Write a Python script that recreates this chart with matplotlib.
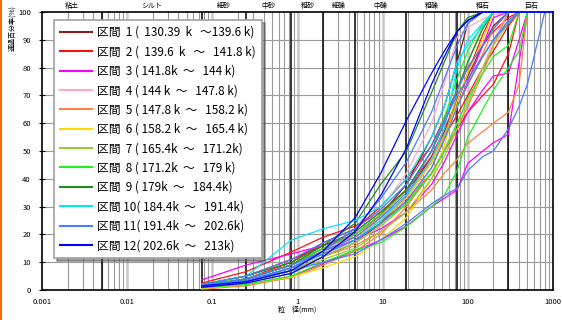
import matplotlib
matplotlib.use("Agg")
import matplotlib.pyplot as plt
from matplotlib.lines import Line2D
import numpy as np

plt.rcParams['font.family'] = ['Noto Sans CJK JP', 'DejaVu Sans']

# sieve sizes (mm)
SIEVE = [0.075, 0.25, 0.85, 2, 4.75, 9.5, 19, 37.5, 53, 75, 100, 150, 200, 300, 400, 500, 800, 1000]

# passing percentages per interval (several samples each)
SEC1 = [
    [1.5, 4, 9, 15, 20, 27, 38, 55, 66, 82, 96, 100, 100, 100, 100, 100, 100, 100],
    [1.0, 3, 7, 12, 17, 24, 34, 48, 57, 68, 77, 88, 95, 100, 100, 100, 100, 100],
]
SEC2 = [
    [2.5, 6.6, 13.7, 19, 23, 28, 36, 48, 58, 68, 78, 92, 100, 100, 100, 100, 100, 100],
    [1.5, 4, 10, 17, 22, 30, 40, 52, 62, 72, 80, 88, 93, 98, 100, 100, 100, 100],
    [2, 5, 11, 16, 20, 27, 36, 46, 55, 63, 70, 80, 86, 95, 100, 100, 100, 100],
    [1, 3, 8, 13, 18, 24, 32, 42, 50, 58, 64, 70, 74, 85, 100, 100, 100, 100],
]
SEC3 = [
    [3.6, 9, 13, 16, 19, 25, 33, 46, 56, 66, 75, 88, 98, 100, 100, 100, 100, 100],
    [0.5, 2, 4.8, 9.6, 14, 18, 23, 30, 33, 36, 45.6, 50, 53, 56, 82, 100, 100, 100],
    [1.5, 4, 9, 14, 18, 22, 28, 38, 46, 56, 64, 72, 77, 78, 90, 100, 100, 100],
]
SEC4 = [
    [1, 3, 8, 14, 20, 29, 42, 60, 74, 91, 94.5, 97.5, 99, 100, 100, 100, 100, 100],
    [1.5, 4, 9, 13, 17, 23, 31, 42, 51, 60, 68, 80, 90, 100, 100, 100, 100, 100],
]
SEC5 = [
    [0.3, 1.5, 4.5, 9, 14, 20, 30, 42, 50, 58, 66, 78, 88, 100, 100, 100, 100, 100],
    [1, 3, 7, 12, 16, 21, 28, 36, 42, 47, 52.8, 57, 60, 64, 74, 100, 100, 100],
    [1.5, 4, 9, 15, 20, 26, 34, 46, 56, 66, 74, 85, 94, 100, 100, 100, 100, 100],
]
SEC6 = [
    [0.5, 2, 4.7, 8, 12, 18, 26, 40, 52, 68, 78, 90, 100, 100, 100, 100, 100, 100],
    [1.5, 4, 9, 14, 19, 25, 33, 46, 55, 66, 74, 84, 90, 97, 100, 100, 100, 100],
]
SEC7 = [
    [1, 3, 7, 12, 17, 23, 31, 44, 55, 70, 82, 95, 100, 100, 100, 100, 100, 100],
    [0.8, 2.5, 6, 11, 15, 21, 28, 40, 48, 58, 67, 80, 88, 96, 100, 100, 100, 100],
]
SEC8 = [
    [0.8, 2, 5, 10, 14.4, 17, 22.8, 30, 34, 43, 55, 65, 72, 80, 86, 100, 100, 100],
    [2, 4, 9, 15, 20, 27, 36, 50, 62, 76, 86, 96, 100, 100, 100, 100, 100, 100],
    [1, 3, 8, 13, 18, 24, 31, 42, 50, 60, 69, 78, 84, 88, 100, 100, 100, 100],
]
SEC9 = [
    [1.5, 4, 9, 16, 24, 38, 50, 71, 82, 93, 98, 100, 100, 100, 100, 100, 100, 100],
    [2, 5, 10, 16, 21, 28, 36, 50, 60, 72, 82, 94, 100, 100, 100, 100, 100, 100],
]
SEC10 = [
    [2, 5, 18, 22, 25, 30, 40, 55, 66, 82, 88, 95, 100, 100, 100, 100, 100, 100],
    [1, 3, 8, 13, 18, 25, 34, 47, 58, 80, 90, 96, 100, 100, 100, 100, 100, 100],
]
SEC11 = [
    [1, 3, 7, 10, 13, 18, 24, 31, 34, 36.6, 43, 48, 50, 58, 66, 74, 100, 100],
    [1.5, 4, 9, 14, 19, 26, 35, 50, 60, 72, 80, 88, 94, 100, 100, 100, 100, 100],
    [1, 3, 8, 13, 18, 24, 32, 44, 54, 66, 74, 84, 90, 97, 100, 100, 100, 100],
    [1.5, 3.5, 8, 14, 22, 33, 46, 64, 76, 88, 96, 100, 100, 100, 100, 100, 100, 100],
    [2, 5, 11, 17, 22, 29, 38, 52, 61, 70, 76, 84, 90, 96, 100, 100, 100, 100],
]
SEC12 = [
    [1.5, 3, 7, 14, 26, 42, 61, 78, 86, 93, 97, 100, 100, 100, 100, 100, 100, 100],
    [1, 2.5, 6, 12, 21, 34, 51, 74, 84, 93, 97, 100, 100, 100, 100, 100, 100, 100],
]

SECTIONS = [SEC1, SEC2, SEC3, SEC4, SEC5, SEC6, SEC7, SEC8, SEC9, SEC10, SEC11, SEC12]
LABELS = [
    "区間  1 (  130.39  k   ～139.6 k)",
    "区間  2 (  139.6  k   ～   141.8 k)",
    "区間  3 ( 141.8k  ～   144 k)",
    "区間  4 ( 144 k  ～   147.8 k)",
    "区間  5 ( 147.8 k  ～   158.2 k)",
    "区間  6 ( 158.2 k  ～   165.4 k)",
    "区間  7 ( 165.4k  ～   171.2k)",
    "区間  8 ( 171.2k  ～   179 k)",
    "区間  9 ( 179k  ～   184.4k)",
    "区間 10( 184.4k  ～   191.4k)",
    "区間 11( 191.4k  ～   202.6k)",
    "区間 12( 202.6k  ～   213k)",
]
COLORS = ["#8b1a1a", "#ff1010", "#ff00ff", "#ffa8cc", "#ff8040", "#ffd800",
          "#9acd32", "#22ee22", "#1e8c1e", "#00e8ff", "#4a7cff", "#0000ff"]

# soil class boundaries (mm) and names
BOUNDS = [0.005, 0.075, 0.25, 0.85, 2, 4.75, 19, 75, 300]
CLASSES = ["粘土", "シルト", "細砂", "中砂", "粗砂", "細礫", "中礫", "粗礫", "粗石", "巨石"]


def plot_grading():
    fig = plt.figure(figsize=(5.62, 3.2), dpi=100)
    ax = fig.add_axes([42 / 562, 30 / 320, 511 / 562, 278 / 320])
    ax.set_xscale("log")
    ax.set_xlim(0.001, 1000)
    ax.set_ylim(0, 100)

    # grid
    for e in range(-3, 3):
        for k in range(2, 10):
            ax.axvline(k * 10.0 ** e, color="#999999", lw=0.8, zorder=1)
        if e > -3:
            ax.axvline(10.0 ** e, color="#c8c8c8", lw=1.8, zorder=1)
    for p in range(10, 100, 10):
        ax.axhline(p, color="#999999", lw=0.8, zorder=1)
    for b in BOUNDS:
        ax.axvline(b, color="black", lw=1.1, zorder=1.5)

    # curves
    for secs, lab, col in zip(SECTIONS, LABELS, COLORS):
        for i, vals in enumerate(secs):
            ax.plot(SIEVE, vals, color=col, lw=0.9, zorder=3,
                    label=lab if i == 0 else None)

    # class labels on top
    edges = [0.001] + BOUNDS + [1000]
    for name, a, b in zip(CLASSES, edges[:-1], edges[1:]):
        ax.text(np.sqrt(a * b), 102.2, name, ha="center", va="center", fontsize=5)

    ax.set_xticks([0.001, 0.01, 0.1, 1, 10, 100, 1000])
    ax.set_xticklabels(["0.001", "0.01", "0.1", "1", "10", "100", "1000"])
    ax.xaxis.set_minor_locator(matplotlib.ticker.NullLocator())
    ax.tick_params(axis="x", length=0, labelsize=5.5, pad=6)
    ax.set_yticks(range(0, 101, 10))
    ax.tick_params(axis="y", direction="inout", length=4, labelsize=5.5, pad=6)
    for s in ax.spines.values():
        s.set_linewidth(1.2)
        s.set_zorder(2.5)

    leg = ax.legend(loc="upper left", bbox_to_anchor=(0.0235, 0.971), borderaxespad=0,
                    fontsize=8.5, handlelength=2.7, labelspacing=0.54, handletextpad=0.45,
                    fancybox=False, shadow=True, framealpha=1, edgecolor="#a0a0a0",
                    borderpad=0.5)
    leg.get_frame().set_linewidth(1.2)
    for h in leg.get_lines():
        h.set_linewidth(1.5)

    fig.text(297 / 562, 1 - 310 / 320, "粒　径(mm)", ha="center", va="center", fontsize=5)
    fig.text(12 / 562, 1 - 5 / 320, "通過百分率(%)", rotation=90, ha="center", va="top", fontsize=5)
    fig.add_artist(Line2D([0.001, 0.001], [0, 1], color="#ff6a00", lw=1.5,
                          transform=fig.transFigure))

    fig.savefig("out.png", dpi=100)
    plt.close(fig)


if __name__ == "__main__":
    plot_grading()
